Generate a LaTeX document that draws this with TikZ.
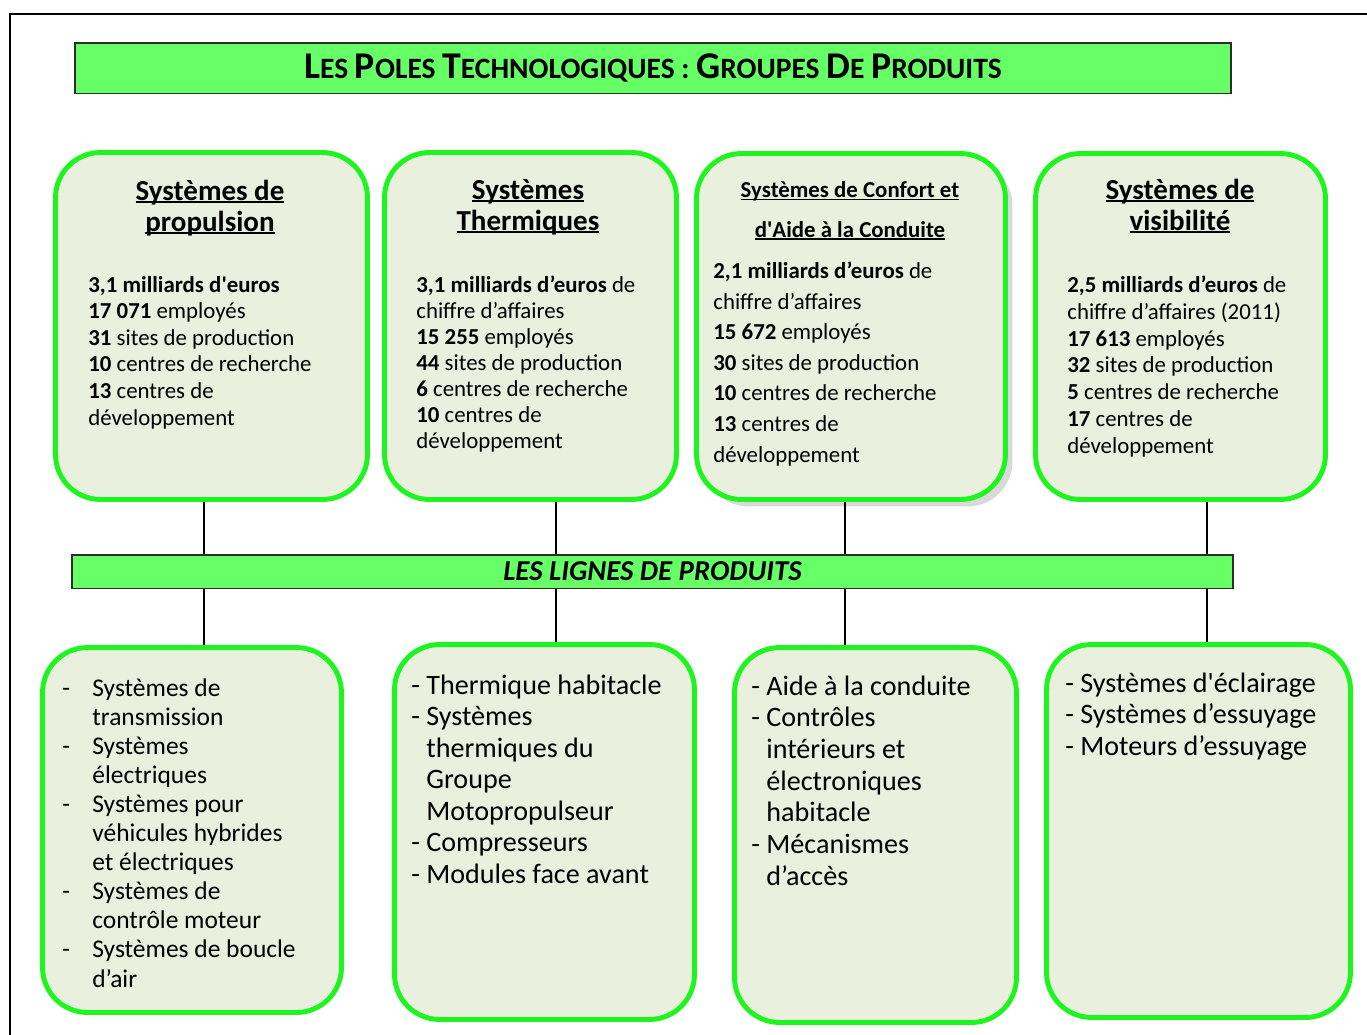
\documentclass[tikz,border=0pt]{standalone}
\usepackage{fontspec}
\setmainfont{Carlito}
\usepackage{xcolor}
\usetikzlibrary{positioning,shadows}

\definecolor{vertbord}{RGB}{30,245,30}
\definecolor{fondpole}{RGB}{233,240,221}
\definecolor{vertbande}{RGB}{102,255,102}
\definecolor{gristrait}{RGB}{45,45,45}

\newsavebox\soulbox
\newcommand\souligne[1]{\sbox\soulbox{#1}\rlap{\rule[-1.8pt]{\wd\soulbox}{1pt}}\usebox\soulbox}
\newcommand\tir[1][0.3cm]{\makebox[#1][l]{-}}
\newcommand\suite[1][0.3cm]{\hspace*{#1}}
\newcommand\psc[2]{{\fontsize{21.5}{21.5}\selectfont #1}#2}

\begin{document}
\begin{tikzpicture}[x=0.02cm, y=-0.02cm,
  pole/.style={draw=vertbord, fill=fondpole, line width=2.8pt, rounded corners=0.9cm, inner sep=0pt},
  bande/.style={draw=gristrait, fill=vertbande, line width=0.85pt, inner sep=0pt},
  texte/.style={inner sep=0pt, anchor=base west, align=left},
  titre/.style={inner sep=0pt, anchor=base, align=center, font=\bfseries\fontsize{16.5}{17.6}\selectfont},
  trait/.style={draw=black, line width=0.85pt}]

  \useasboundingbox (0,0) rectangle (1367,1035);
  % cadre
  \draw[line width=1.1pt] (10,1035) -- (10,14) -- (1367,14);

  \node[bande, minimum width=23.13cm, minimum height=1.01cm, font=\bfseries\fontsize{16.8}{17}\selectfont] (Titre) at (653,68)
    {\psc{L}{ES} \psc{P}{OLES} \psc{T}{ECHNOLOGIQUES} : \psc{G}{ROUPES} \psc{D}{E} \psc{P}{RODUITS}};
  \node[bande, minimum width=23.23cm, minimum height=0.67cm, font=\bfseries\itshape\fontsize{16.4}{17}\selectfont] (Lignes) at (652.5,571.5)
    {LES LIGNES DE PRODUITS};

  % poles (texte place sur la derniere ligne de base)
  \node[pole, minimum width=6.24cm, minimum height=6.94cm] (P1) at (211.5,326) {};
  \node[pole, minimum width=5.84cm, minimum height=6.94cm] (P2) at (530.5,326) {};
  \node[pole, minimum width=6.18cm, minimum height=6.92cm,
        drop shadow={shadow xshift=0.14cm, shadow yshift=-0.14cm, opacity=0.3}] (P3) at (851,326.5) {};
  \node[pole, minimum width=5.8cm, minimum height=6.92cm] (P4) at (1180.5,326.5) {};

  \node[titre] (T1) at (210,231) {\souligne{Systèmes de}\\\souligne{propulsion}};
  \node[titre] (T2) at (528,230) {\souligne{Systèmes}\\\souligne{Thermiques}};
  \node[titre, font=\bfseries\fontsize{13}{22.7}\selectfont] (T3) at (850,237)
    {\souligne{Systèmes de Confort et}\\\souligne{d\textquotesingle Aide à la Conduite}};
  \node[titre] (T4) at (1180,230) {\souligne{Systèmes de}\\\souligne{visibilité}};

  \node[texte, font=\fontsize{13}{15.1}\selectfont] (C1) at (88,425)
    {\textbf{3,1 milliards d\textquotesingle euros}\\ \textbf{17 071} employés\\ \textbf{31} sites de production\\
     \textbf{10} centres de recherche\\ \textbf{13} centres de\\ développement};
  \node[texte, font=\fontsize{13}{14.75}\selectfont] (C2) at (416,448)
    {\textbf{3,1 milliards d’euros} de\\ chiffre d’affaires\\ \textbf{15 255} employés\\ \textbf{44} sites de production\\
     \textbf{6} centres de recherche\\ \textbf{10} centres de\\ développement};
  \node[texte, font=\fontsize{13}{17.4}\selectfont] (C3) at (713,462)
    {\textbf{2,1 milliards d’euros} de\\ chiffre d’affaires\\ \textbf{15 672} employés\\ \textbf{30} sites de production\\
     \textbf{10} centres de recherche\\ \textbf{13} centres de\\ développement};
  \node[texte, font=\fontsize{13}{15.2}\selectfont] (C4) at (1067,453)
    {\textbf{2,5 milliards d’euros} de\\ chiffre d’affaires (2011)\\ \textbf{17 613} employés\\ \textbf{32} sites de production\\
     \textbf{5} centres de recherche\\ \textbf{17} centres de\\ développement};

  % lignes de produits
  \node[pole, minimum width=5.98cm, minimum height=7.3cm] (L1) at (192,830) {};
  \node[pole, minimum width=6.0cm, minimum height=7.5cm] (L2) at (544.5,832) {};
  \node[pole, minimum width=5.64cm, minimum height=7.5cm] (L3) at (875.5,835) {};
  \node[pole, minimum width=6.08cm, minimum height=7.46cm] (L4) at (1198.5,831) {};

  \node[texte, font=\fontsize{14.5}{16.55}\selectfont] (D1) at (62,987)
    {\tir[0.6cm]Systèmes de\\ \suite[0.6cm]transmission\\ \tir[0.6cm]Systèmes\\ \suite[0.6cm]électriques\\
     \tir[0.6cm]Systèmes pour\\ \suite[0.6cm]véhicules hybrides\\ \suite[0.6cm]et électriques\\
     \tir[0.6cm]Systèmes de\\ \suite[0.6cm]contrôle moteur\\ \tir[0.6cm]Systèmes de boucle\\ \suite[0.6cm]d’air};
  \node[texte, font=\fontsize{16}{17.9}\selectfont] (D2) at (411,883)
    {\tir Thermique habitacle\\ \tir Systèmes\\ \suite thermiques du\\ \suite Groupe\\ \suite Motopropulseur\\
     \tir Compresseurs\\ \tir Modules face avant};
  \node[texte, font=\fontsize{16}{18}\selectfont] (D3) at (751,885)
    {\tir Aide à la conduite\\ \tir Contrôles\\ \suite intérieurs et\\ \suite électroniques\\ \suite habitacle\\
     \tir Mécanismes\\ \suite d’accès};
  \node[texte, font=\fontsize{16}{17.9}\selectfont] (D4) at (1065,755)
    {\tir Systèmes d\textquotesingle éclairage\\ \tir Systèmes d’essuyage\\ \tir Moteurs d’essuyage};

  % liaisons
  \coordinate (X1) at (204,0);
  \coordinate (X2) at (556,0);
  \coordinate (X3) at (845,0);
  \coordinate (X4) at (1207,0);

  \path
    (P1.south -| X1) edge[trait] (Lignes.north -| X1)
    (P2.south -| X2) edge[trait] (Lignes.north -| X2)
    (P3.south -| X3) edge[trait] (Lignes.north -| X3)
    (P4.south -| X4) edge[trait] (Lignes.north -| X4);

  \path
    (Lignes.south -| X1) edge[trait] (L1.north -| X1)
    (Lignes.south -| X2) edge[trait] (L2.north -| X2)
    (Lignes.south -| X3) edge[trait] (L3.north -| X3)
    (Lignes.south -| X4) edge[trait] (L4.north -| X4);

\end{tikzpicture}
\end{document}
